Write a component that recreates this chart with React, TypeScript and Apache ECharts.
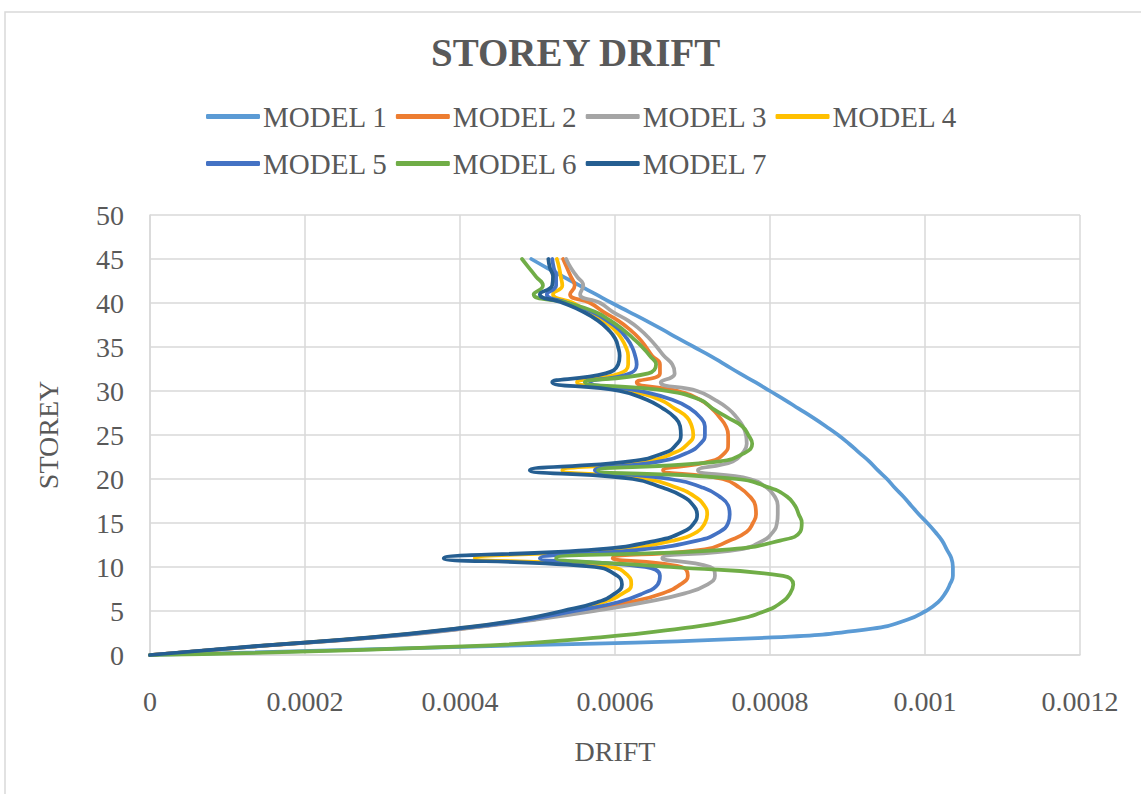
import React, { useEffect, useRef } from 'react';
import * as echarts from 'echarts';

const storeys = [0, 1, 2, 3, 4, 5, 6, 7, 8, 9, 10, 11, 12, 13, 14, 15, 16, 17, 18, 19, 20, 21, 22, 23, 24, 25, 26, 27, 28, 29, 30, 31, 32, 33, 34, 35, 36, 37, 38, 39, 40, 41, 42, 43, 44, 45];

const model1 = [0, 0.000439, 0.000803, 0.000932, 0.000977, 0.001001, 0.001017, 0.001026, 0.001032, 0.001036, 0.001036, 0.001034, 0.001028, 0.001022, 0.001013, 0.001003, 0.000992, 0.000982, 0.000972, 0.000961, 0.000951, 0.000939, 0.000928, 0.000915, 0.000902, 0.000888, 0.000872, 0.000855, 0.000837, 0.000819, 0.000800, 0.000781, 0.000761, 0.000742, 0.000723, 0.000702, 0.000681, 0.000661, 0.000640, 0.000618, 0.000596, 0.000575, 0.000554, 0.000533, 0.000512, 0.000492];
const model2 = [0, 0.000139, 0.000290, 0.000403, 0.000490, 0.000561, 0.000619, 0.000661, 0.000684, 0.000694, 0.000686, 0.000597, 0.000716, 0.000748, 0.000770, 0.000778, 0.000782, 0.000781, 0.000774, 0.000761, 0.000739, 0.000662, 0.000723, 0.000742, 0.000746, 0.000746, 0.000743, 0.000735, 0.000725, 0.000710, 0.000681, 0.000628, 0.000658, 0.000658, 0.000648, 0.000640, 0.000631, 0.000619, 0.000604, 0.000585, 0.000568, 0.000542, 0.000548, 0.000543, 0.000538, 0.000533];
const model3 = [0, 0.000141, 0.000293, 0.000406, 0.000497, 0.000574, 0.000639, 0.000690, 0.000719, 0.000729, 0.000723, 0.000661, 0.000761, 0.000791, 0.000804, 0.000809, 0.000810, 0.000810, 0.000806, 0.000796, 0.000774, 0.000707, 0.000752, 0.000765, 0.000770, 0.000769, 0.000765, 0.000757, 0.000746, 0.000729, 0.000706, 0.000659, 0.000677, 0.000674, 0.000663, 0.000654, 0.000644, 0.000632, 0.000617, 0.000597, 0.000581, 0.000555, 0.000559, 0.000551, 0.000543, 0.000537];
const model4 = [0, 0.000138, 0.000286, 0.000397, 0.000481, 0.000537, 0.000585, 0.000610, 0.000621, 0.000617, 0.000594, 0.000419, 0.000603, 0.000675, 0.000706, 0.000716, 0.000719, 0.000715, 0.000703, 0.000680, 0.000641, 0.000532, 0.000639, 0.000677, 0.000694, 0.000701, 0.000699, 0.000693, 0.000677, 0.000658, 0.000619, 0.000551, 0.000606, 0.000617, 0.000617, 0.000614, 0.000608, 0.000599, 0.000585, 0.000565, 0.000546, 0.000520, 0.000532, 0.000530, 0.000528, 0.000525];
const model5 = [0, 0.000139, 0.000289, 0.000400, 0.000486, 0.000548, 0.000604, 0.000636, 0.000655, 0.000658, 0.000639, 0.000503, 0.000636, 0.000706, 0.000735, 0.000746, 0.000748, 0.000746, 0.000735, 0.000714, 0.000671, 0.000574, 0.000658, 0.000694, 0.000710, 0.000716, 0.000716, 0.000710, 0.000697, 0.000674, 0.000632, 0.000568, 0.000619, 0.000628, 0.000626, 0.000622, 0.000615, 0.000605, 0.000590, 0.000570, 0.000539, 0.000512, 0.000524, 0.000524, 0.000521, 0.000519];
const model6 = [0, 0.000413, 0.000581, 0.000684, 0.000755, 0.000794, 0.000815, 0.000826, 0.000830, 0.000817, 0.000671, 0.000524, 0.000748, 0.000813, 0.000839, 0.000841, 0.000837, 0.000832, 0.000822, 0.000800, 0.000757, 0.000578, 0.000735, 0.000768, 0.000777, 0.000772, 0.000764, 0.000745, 0.000726, 0.000710, 0.000667, 0.000561, 0.000643, 0.000653, 0.000645, 0.000635, 0.000623, 0.000610, 0.000594, 0.000574, 0.000539, 0.000495, 0.000507, 0.000498, 0.000489, 0.000480];
const model7 = [0, 0.000135, 0.000284, 0.000394, 0.000477, 0.000532, 0.000577, 0.000600, 0.000609, 0.000603, 0.000574, 0.000379, 0.000577, 0.000654, 0.000688, 0.000702, 0.000706, 0.000701, 0.000688, 0.000662, 0.000623, 0.000490, 0.000619, 0.000665, 0.000680, 0.000685, 0.000684, 0.000677, 0.000662, 0.000641, 0.000606, 0.000519, 0.000588, 0.000604, 0.000606, 0.000604, 0.000600, 0.000591, 0.000578, 0.000559, 0.000533, 0.000503, 0.000519, 0.000520, 0.000516, 0.000514];

const seriesNames = ['MODEL 1', 'MODEL 2', 'MODEL 3', 'MODEL 4', 'MODEL 5', 'MODEL 6', 'MODEL 7'];
const seriesColors = ['#5B9BD5', '#ED7D31', '#A5A5A5', '#FFC000', '#4472C4', '#70AD47', '#255E91'];
const xTickLabels = ['0', '0.0002', '0.0004', '0.0006', '0.0008', '0.001', '0.0012'];
const yTickLabels = ['0', '5', '10', '15', '20', '25', '30', '35', '40', '45', '50'];

const FONT = "'Liberation Serif', 'Times New Roman', serif";
const TEXT = '#595959';
const GRID = '#D9D9D9';

export default function App() {
  const ref = useRef<HTMLDivElement>(null);
  useEffect(() => {
    if (!ref.current) return;
    const chart = echarts.init(ref.current, null, { renderer: 'svg' });
    const models = [model1, model2, model3, model4, model5, model6, model7];
    const legendCommon = {
      orient: 'horizontal',
      left: 206,
      itemWidth: 54,
      itemHeight: 5,
      itemGap: 8,
      icon: 'roundRect',
      padding: 0,
      textStyle: { fontFamily: FONT, fontSize: 29, color: TEXT, padding: [0, 0, 0, -2] },
    };
    chart.setOption({
      animation: false,
      backgroundColor: '#ffffff',
      graphic: [
        {
          type: 'rect',
          silent: true,
          shape: { x: 5, y: 12, width: 1145, height: 800 },
          style: { fill: 'none', stroke: GRID, lineWidth: 1.5 },
        },
      ],
      title: {
        text: 'STOREY DRIFT',
        left: 431,
        top: 33,
        padding: 0,
        textStyle: { fontFamily: FONT, fontSize: 39, fontWeight: 'bold', color: TEXT },
      },
      legend: [
        { ...legendCommon, top: 102, data: seriesNames.slice(0, 4) },
        { ...legendCommon, top: 149, data: seriesNames.slice(4) },
      ],
      grid: { left: 150, right: 61, top: 215, bottom: 139, containLabel: false },
      xAxis: {
        type: 'value',
        min: 0,
        max: 0.0012,
        interval: 0.0002,
        name: 'DRIFT',
        nameLocation: 'middle',
        nameGap: 82,
        nameTextStyle: { fontFamily: FONT, fontSize: 28, color: TEXT },
        axisLine: { show: true, lineStyle: { color: GRID, width: 1.5 } },
        axisTick: { show: false },
        splitLine: { show: true, lineStyle: { color: GRID, width: 1.5 } },
        axisLabel: {
          fontFamily: FONT,
          fontSize: 28,
          color: TEXT,
          margin: 32,
          formatter: (v: number) => xTickLabels[Math.round(v / 0.0002)] ?? '',
        },
      },
      yAxis: {
        type: 'value',
        min: 0,
        max: 50,
        interval: 5,
        name: 'STOREY',
        nameLocation: 'middle',
        nameRotate: 90,
        nameGap: 88,
        nameTextStyle: { fontFamily: FONT, fontSize: 28, color: TEXT },
        axisLine: { show: true, lineStyle: { color: GRID, width: 1.5 } },
        axisTick: { show: false },
        splitLine: { show: true, lineStyle: { color: GRID, width: 1.5 } },
        axisLabel: {
          fontFamily: FONT,
          fontSize: 28,
          color: TEXT,
          margin: 26,
          formatter: (v: number) => yTickLabels[Math.round(v / 5)] ?? '',
        },
      },
      series: models.map((m, i) => ({
        type: 'line',
        name: seriesNames[i],
        data: m.map((v, j) => [v, storeys[j]]),
        smooth: 0.5,
        symbol: 'none',
        showSymbol: false,
        lineStyle: { width: 3.75, color: seriesColors[i], cap: 'round', join: 'round' },
        itemStyle: { color: seriesColors[i] },
        z: 2 + i,
      })),
    });
    return () => chart.dispose();
  }, []);
  return (
    <div
      ref={ref}
      style={{ position: 'fixed', left: 0, top: 0, width: 1141, height: 794, background: '#fff' }}
    />
  );
}
